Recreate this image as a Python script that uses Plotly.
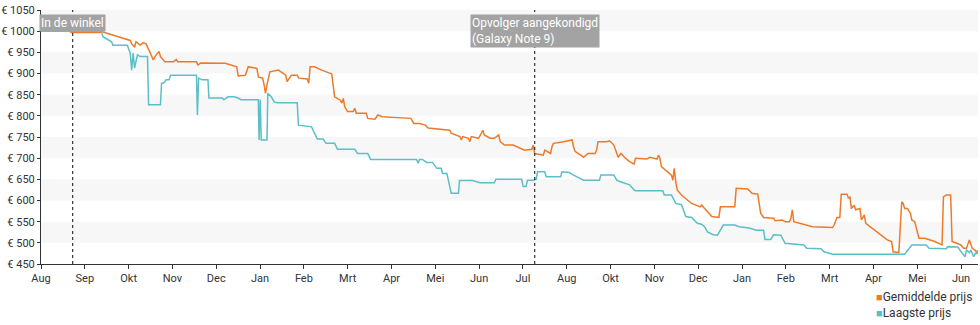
import pandas as pd
import plotly.graph_objects as go

# ---------------- data ----------------
avg_dates = [
    "2017-08-01", "2017-08-21", "2017-08-22", "2017-09-11", "2017-09-12", "2017-10-02", "2017-10-03",
    "2017-10-05", "2017-10-06", "2017-10-09", "2017-10-11", "2017-10-13", "2017-10-16", "2017-10-18",
    "2017-10-20", "2017-10-22", "2017-10-23", "2017-10-26", "2017-11-01", "2017-11-03", "2017-11-04",
    "2017-11-17", "2017-11-18", "2017-11-20", "2017-12-07", "2017-12-15", "2017-12-16", "2017-12-21",
    "2017-12-23", "2017-12-29", "2017-12-30", "2018-01-02", "2018-01-03", "2018-01-04", "2018-01-05",
    "2018-01-06", "2018-01-07", "2018-01-13", "2018-01-18", "2018-01-19", "2018-01-22", "2018-01-26",
    "2018-01-27", "2018-02-02", "2018-02-03", "2018-02-04", "2018-02-07", "2018-02-12", "2018-02-18",
    "2018-02-19", "2018-02-21", "2018-02-25", "2018-02-26", "2018-02-27", "2018-02-28", "2018-03-02",
    "2018-03-06", "2018-03-07", "2018-03-08", "2018-03-15", "2018-03-16", "2018-03-21", "2018-03-23",
    "2018-03-26", "2018-04-15", "2018-04-17", "2018-04-21", "2018-04-25", "2018-04-27", "2018-05-05",
    "2018-05-12", "2018-05-13", "2018-05-19", "2018-05-20", "2018-05-21", "2018-05-25", "2018-05-26",
    "2018-05-27", "2018-06-01", "2018-06-03", "2018-06-04", "2018-06-05", "2018-06-09", "2018-06-12",
    "2018-06-15", "2018-06-16", "2018-06-19", "2018-06-25", "2018-06-30", "2018-07-03", "2018-07-08",
    "2018-07-09", "2018-07-10", "2018-07-16", "2018-07-17", "2018-07-21", "2018-07-22", "2018-07-23",
    "2018-07-30", "2018-08-05", "2018-08-06", "2018-08-07", "2018-08-11", "2018-08-13", "2018-08-16",
    "2018-08-21", "2018-08-22", "2018-08-23", "2018-08-29", "2018-08-31", "2018-09-03", "2018-09-05",
    "2018-09-06", "2018-09-08", "2018-09-11", "2018-09-14", "2018-09-17", "2018-09-18", "2018-09-26",
    "2018-09-28", "2018-10-03", "2018-10-04", "2018-10-05", "2018-10-06", "2018-10-11", "2018-10-13",
    "2018-10-14", "2018-10-15", "2018-10-16", "2018-10-17", "2018-10-20", "2018-10-24", "2018-10-27",
    "2018-11-02", "2018-11-03", "2018-11-07", "2018-11-10", "2018-11-15", "2018-11-16", "2018-11-26",
    "2018-11-27", "2018-12-05", "2018-12-08", "2018-12-12", "2018-12-14", "2018-12-16", "2018-12-23",
    "2018-12-24", "2018-12-29", "2018-12-31", "2019-01-03", "2019-01-04", "2019-01-05", "2019-01-06",
    "2019-01-10", "2019-01-19", "2019-02-02", "2019-02-03", "2019-02-05", "2019-02-07", "2019-02-08",
    "2019-02-12", "2019-02-13", "2019-02-14", "2019-02-15", "2019-02-17", "2019-02-18", "2019-02-21",
    "2019-02-22", "2019-02-24", "2019-02-25", "2019-02-28", "2019-03-05", "2019-03-09", "2019-03-12",
    "2019-03-15", "2019-03-16", "2019-03-20", "2019-03-22", "2019-03-23", "2019-03-24", "2019-03-26",
    "2019-03-28", "2019-03-29", "2019-03-31", "2019-04-03", "2019-04-07", "2019-04-14", "2019-04-19",
    "2019-04-20", "2019-04-22", "2019-04-25", "2019-04-26", "2019-05-02", "2019-05-04", "2019-05-06",
    "2019-05-08", "2019-05-10", "2019-05-12", "2019-05-13", "2019-05-14",
]
avg_prices = [
    1000, 1000, 997, 997, 999, 978, 970,
    963, 975, 967, 973, 970, 948, 932,
    944, 952, 940, 928, 928, 933, 928,
    928, 920, 925, 924, 916, 894, 896,
    916, 912, 892, 889, 873, 853, 873,
    892, 904, 908, 896, 881, 896, 896,
    889, 887, 877, 916, 916, 908, 899,
    899, 845, 837, 830, 841, 822, 810,
    810, 818, 806, 806, 794, 792, 802,
    798, 794, 782, 782, 778, 771, 768,
    766, 759, 751, 743, 751, 747, 739,
    751, 747, 759, 766, 755, 747, 747,
    755, 739, 731, 731, 723, 719, 721,
    731, 711, 707, 719, 711, 727, 735,
    739, 743, 727, 716, 707, 702, 711,
    711, 719, 739, 739, 741, 731, 711,
    702, 711, 700, 692, 686, 700, 698,
    702, 698, 707, 700, 680, 664, 660,
    648, 676, 644, 625, 613, 601, 593,
    585, 589, 574, 562, 560, 585, 585,
    629, 627, 617, 615, 570, 560, 558,
    552, 554, 550, 550, 558, 578, 550,
    546, 538, 536, 542, 560, 560, 615,
    615, 605, 609, 581, 589, 578, 581,
    554, 566, 546, 538, 526, 515, 507,
    503, 479, 477, 597, 593, 581, 581,
    570, 554, 550, 511, 511, 503, 495,
    609, 613, 613, 503, 495, 487, 487,
    507, 487, 483, 477, 483,
]

low_dates = [
    "2017-08-01", "2017-09-12", "2017-09-13", "2017-09-15", "2017-09-19", "2017-09-20", "2017-09-30",
    "2017-10-02", "2017-10-03", "2017-10-04", "2017-10-05", "2017-10-07", "2017-10-09", "2017-10-14 00:00",
    "2017-10-14 18:00", "2017-10-23 00:00", "2017-10-23 18:00", "2017-10-25", "2017-10-27", "2017-10-29", "2017-10-30",
    "2017-11-17 00:00", "2017-11-17 16:00", "2017-11-18 12:00", "2017-11-21", "2017-11-25 00:00", "2017-11-25 16:00", "2017-12-05",
    "2017-12-06", "2017-12-09", "2017-12-13", "2017-12-16", "2017-12-18", "2017-12-30 00:00", "2017-12-30 12:00",
    "2017-12-31 08:00", "2018-01-01 00:00", "2018-01-05 00:00", "2018-01-05 14:00", "2018-01-08", "2018-01-10", "2018-01-12",
    "2018-01-26 00:00", "2018-01-26 20:00", "2018-02-05", "2018-02-07", "2018-02-09", "2018-02-13", "2018-02-15",
    "2018-02-21", "2018-02-23", "2018-03-07", "2018-03-09", "2018-03-16", "2018-03-18", "2018-04-19",
    "2018-04-20", "2018-04-21", "2018-04-23", "2018-04-26", "2018-04-30", "2018-05-03", "2018-05-06",
    "2018-05-07", "2018-05-10", "2018-05-11", "2018-05-13", "2018-05-18 00:00", "2018-05-18 18:00", "2018-05-28",
    "2018-06-02", "2018-06-12", "2018-06-13", "2018-07-01", "2018-07-02", "2018-07-04", "2018-07-05",
    "2018-07-09", "2018-07-11", "2018-07-12", "2018-07-17", "2018-07-18", "2018-07-28", "2018-07-29",
    "2018-08-03", "2018-08-06", "2018-08-08", "2018-08-13", "2018-08-24", "2018-08-25", "2018-09-03",
    "2018-09-05", "2018-09-07", "2018-09-11", "2018-09-14", "2018-09-17", "2018-09-18", "2018-10-07",
    "2018-10-08", "2018-10-13", "2018-10-14", "2018-10-16", "2018-10-20", "2018-10-22", "2018-10-23",
    "2018-10-27", "2018-10-29", "2018-10-31", "2018-11-03", "2018-11-05", "2018-11-07", "2018-11-11",
    "2018-11-14", "2018-11-18", "2018-11-26", "2018-11-29", "2018-12-06", "2018-12-11", "2018-12-16",
    "2018-12-17", "2018-12-21", "2018-12-23", "2018-12-28", "2018-12-31", "2019-01-13", "2019-01-15",
    "2019-01-25", "2019-01-27", "2019-02-02", "2019-03-24", "2019-03-29", "2019-04-08", "2019-04-10",
    "2019-04-22", "2019-04-23", "2019-04-30", "2019-05-02", "2019-05-05", "2019-05-06", "2019-05-08",
    "2019-05-09", "2019-05-11", "2019-05-12", "2019-05-14",
]
low_prices = [
    1000, 1000, 987, 983, 975, 967, 967,
    948, 908, 948, 913, 944, 940, 940,
    826, 826, 877, 877, 885, 885, 896,
    896, 802, 889, 885, 885, 842, 842,
    838, 845, 845, 842, 838, 838, 743,
    838, 743, 743, 853, 845, 833, 831,
    831, 778, 774, 759, 745, 745, 735,
    735, 721, 721, 711, 711, 697, 697,
    688, 697, 697, 690, 690, 676, 676,
    664, 664, 648, 617, 617, 647, 647,
    642, 642, 650, 650, 633, 633, 648,
    648, 650, 668, 668, 656, 656, 668,
    666, 660, 656, 648, 648, 660, 660,
    648, 645, 641, 637, 625, 623, 623,
    613, 613, 605, 593, 590, 574, 562,
    560, 554, 546, 544, 538, 526, 519,
    518, 542, 542, 538, 535, 530, 530,
    508, 508, 519, 518, 499, 495, 487,
    486, 479, 473, 473, 495, 495, 487,
    486, 491, 490, 480, 467, 483, 477,
    483, 467, 475, 475,
]

tick_labels = ["Aug", "Sep", "Okt", "Nov", "Dec", "Jan", "Feb", "Mrt", "Apr", "Mei", "Jun",
               "Jul", "Aug", "Okt", "Nov", "Dec", "Jan", "Feb", "Mrt", "Apr", "Mei", "Jun"]
x_start = "2017-08-01"
x_end = "2019-05-14"
tick_step_days = 30.44

event_dates = ["2017-08-23", "2018-07-10"]
event_labels = ["In de winkel", "Opvolger aangekondigd<br>(Galaxy Note 9)"]

series_names = ["Gemiddelde prijs", "Laagste prijs"]
series_colors = ["#ec7a2a", "#5bbfc8"]

band_starts = [500, 600, 700, 800, 900, 1000]
band_height = 50

# ---------------- figure ----------------
start = pd.Timestamp(x_start)
tickvals = [start + pd.Timedelta(days=tick_step_days * k) for k in range(len(tick_labels))]

fig = go.Figure()
fig.add_trace(go.Scatter(x=pd.to_datetime(avg_dates, format="mixed"), y=avg_prices, mode="lines",
                         name=series_names[0], line=dict(color=series_colors[0], width=1.5),
                         showlegend=False))
fig.add_trace(go.Scatter(x=pd.to_datetime(low_dates, format="mixed"), y=low_prices, mode="lines",
                         name=series_names[1], line=dict(color=series_colors[1], width=1.5),
                         showlegend=False))

shapes = []
for b in band_starts:
    shapes.append(dict(type="rect", xref="paper", yref="y", x0=0, x1=1, y0=b, y1=b + band_height,
                       fillcolor="#f7f7f7", line=dict(width=0), layer="below"))
for d in event_dates:
    shapes.append(dict(type="line", xref="x", yref="paper", x0=d, x1=d, y0=0, y1=1,
                       line=dict(color="#333333", width=1.2, dash="dot")))

annotations = []
for d, t in zip(event_dates, event_labels):
    annotations.append(dict(x=d, y=0.984, xref="x", yref="paper", xanchor="center", yanchor="top",
                            text=t, showarrow=False, align="left", bgcolor="#a3a3a3",
                            borderpad=1, font=dict(family="Roboto", size=12, color="white")))

legend_y = [-0.13, -0.193]
for name, col, ly in zip(series_names, series_colors, legend_y):
    annotations.append(dict(x=0.889, y=ly, xref="paper", yref="paper", xanchor="left", yanchor="middle",
                            showarrow=False,
                            text=f'<span style="color:{col};font-size:11px">■</span>{name}',
                            font=dict(family="Roboto", size=12, color="#333333")))

fig.update_layout(
    width=980, height=325,
    margin=dict(l=41, r=2, t=10, b=61, autoexpand=False),
    paper_bgcolor="white", plot_bgcolor="white",
    font=dict(family="Roboto", size=12, color="#333333"),
    shapes=shapes, annotations=annotations,
    showlegend=False,
)
fig.update_xaxes(type="date", range=[start, pd.Timestamp(x_end)], tickvals=tickvals, ticktext=tick_labels,
                 showgrid=False, zeroline=False, showline=True, linecolor="#333333", linewidth=1,
                 ticks="outside", ticklen=4, tickcolor="#333333", automargin=False,
                 tickfont=dict(family="Roboto", size=11, color="#333333"))
fig.update_yaxes(range=[450, 1050], dtick=50, tick0=450, tickprefix="€ ", showgrid=False, zeroline=False,
                 showline=True, linecolor="#333333", linewidth=1, ticks="outside", ticklen=3,
                 tickcolor="#333333", automargin=False,
                 tickfont=dict(family="Roboto", size=11, color="#333333"))

fig.write_html("out.html", config={"displayModeBar": False})
